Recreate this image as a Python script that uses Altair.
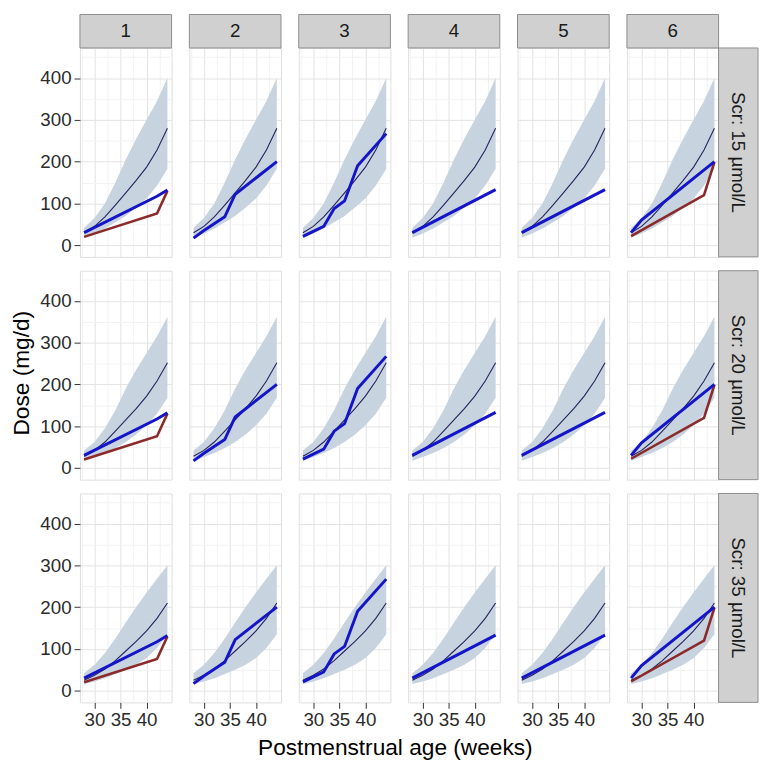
import altair as alt
import pandas as pd

# ---------------- data ----------------
weeks = [28, 30, 32, 34, 36, 38, 40, 42, 44]
scr_labels = ["Scr: 15 µmol/L", "Scr: 20 µmol/L", "Scr: 35 µmol/L"]
panel_labels = ["1", "2", "3", "4", "5", "6"]
y_title = "Dose (mg/d)"
x_title = "Postmenstrual age (weeks)"

median_15 = [30, 45, 68, 96, 125, 155, 187, 228, 280]
lower_15 = [18, 28, 40, 55, 70, 90, 112, 143, 183]
upper_15 = [42, 65, 100, 150, 205, 255, 300, 345, 400]

median_20 = [28, 42, 62, 88, 115, 142, 172, 208, 252]
lower_20 = [17, 26, 36, 48, 62, 80, 102, 130, 168]
upper_20 = [42, 62, 95, 138, 190, 235, 275, 315, 362]

median_35 = [25, 37, 52, 72, 95, 118, 143, 173, 210]
lower_35 = [16, 22, 30, 40, 50, 62, 78, 102, 135]
upper_35 = [42, 62, 90, 125, 163, 200, 235, 268, 300]

medians = [median_15, median_20, median_35]
lowers = [lower_15, lower_20, lower_35]
uppers = [upper_15, upper_20, upper_35]

blue_x = [[28, 42, 44], [28, 30, 34, 36, 44], [28, 30, 32, 34, 36, 38.5, 44],
          [28, 44], [28, 44], [28, 30, 44]]
blue_y = [[30, 117, 132], [17, 35, 68, 122, 200], [21, 33, 45, 88, 106, 190, 267],
          [30, 133], [30, 133], [30, 60, 200]]
red_x = [[28, 42, 44], [], [], [], [], [28, 42, 44]]
red_y = [[20, 76, 130], [], [], [], [], [22, 120, 199]]

x_grid = [27.5, 30, 32.5, 35, 37.5, 40, 42.5]
y_grid = [0, 50, 100, 150, 200, 250, 300, 350, 400, 450]

# ---------------- styling ----------------
FONT = "Liberation Sans"
PW, PH = 93, 212
SP = 12
STRIP_H = 34
STRIP_W = 40
RIBBON = "#C8D3E0"
MEDIAN = "#23235E"
BLUE = "#1414C8"
RED = "#8B2A2A"
STRIP_FILL = "#D0D0D0"
BORDER = "#8C8C8C"
MAJOR = "#E3E3E3"
MINOR = "#F2F2F2"
TXT = "#2b2b2b"


def x_axis(show):
    grid_col = {"condition": {"test": "datum.value % 5 === 0", "value": MAJOR}, "value": MINOR}
    if show:
        return alt.Axis(values=x_grid, labelExpr="datum.value % 5 === 0 ? datum.label : ''",
                        tickColor={"condition": {"test": "datum.value % 5 === 0", "value": "#333333"},
                                   "value": "transparent"},
                        gridColor=grid_col, domain=False, labelFontSize=19, labelColor=TXT,
                        labelFont=FONT, tickSize=6, labelPadding=2, labelFlush=False,
                        labelOverlap=False, title=None)
    return alt.Axis(values=x_grid, labels=False, ticks=False, domain=False,
                    gridColor=grid_col, title=None, minExtent=0, maxExtent=0)


def y_axis(show):
    grid_col = {"condition": {"test": "datum.value % 100 === 0", "value": MAJOR}, "value": MINOR}
    if show:
        return alt.Axis(values=y_grid, labelExpr="datum.value % 100 === 0 ? datum.label : ''",
                        tickColor={"condition": {"test": "datum.value % 100 === 0", "value": "#333333"},
                                   "value": "transparent"},
                        gridColor=grid_col, domain=False, labelFontSize=19, labelColor=TXT,
                        labelFont=FONT, tickSize=6, labelPadding=3, labelFlush=False,
                        labelOverlap=False, title=None)
    return alt.Axis(values=y_grid, labels=False, ticks=False, domain=False,
                    gridColor=grid_col, title=None, minExtent=0, maxExtent=0)


XS = alt.Scale(domain=[27.2, 44.8], nice=False, zero=False)
YS = alt.Scale(domain=[-28, 472], nice=False, zero=False)


def strip_top(c):
    df = pd.DataFrame({"label": [panel_labels[c]]})
    box = alt.Chart(df).mark_rect(fill=STRIP_FILL, stroke=BORDER, strokeWidth=1).encode(
        x=alt.value(0), x2=alt.value(PW), y=alt.value(-STRIP_H), y2=alt.value(0))
    txt = alt.Chart(df).mark_text(fontSize=19, font=FONT, color="#1a1a1a").encode(
        text="label:N", x=alt.value(PW / 2), y=alt.value(-STRIP_H / 2))
    return [box, txt]


def strip_right(r):
    df = pd.DataFrame({"label": [scr_labels[r]]})
    box = alt.Chart(df).mark_rect(fill=STRIP_FILL, stroke=BORDER, strokeWidth=1).encode(
        x=alt.value(PW), x2=alt.value(PW + STRIP_W), y=alt.value(0), y2=alt.value(PH))
    txt = alt.Chart(df).mark_text(fontSize=19, font=FONT, color="#1a1a1a", angle=90).encode(
        text="label:N", x=alt.value(PW + STRIP_W / 2), y=alt.value(PH / 2))
    return [box, txt]


def panel(r, c):
    xa = x_axis(r == 2)
    ya = y_axis(c == 0)
    X = alt.X("week:Q", scale=XS, axis=xa)
    band_df = pd.DataFrame({"week": weeks, "lower": lowers[r], "upper": uppers[r],
                            "median": medians[r]})
    band = alt.Chart(band_df).mark_area(color=RIBBON, opacity=1).encode(
        x=X, y=alt.Y("lower:Q", scale=YS, axis=ya), y2="upper:Q")
    med = alt.Chart(band_df).mark_line(color=MEDIAN, strokeWidth=1.1).encode(
        x=X, y=alt.Y("median:Q", scale=YS, axis=ya))
    layers = [band, med]
    if red_x[c]:
        red_df = pd.DataFrame({"week": red_x[c], "dose": red_y[c]})
        layers.append(alt.Chart(red_df).mark_line(color=RED, strokeWidth=2.6).encode(
            x=X, y=alt.Y("dose:Q", scale=YS, axis=ya)))
    blue_df = pd.DataFrame({"week": blue_x[c], "dose": blue_y[c]})
    layers.append(alt.Chart(blue_df).mark_line(color=BLUE, strokeWidth=3).encode(
        x=X, y=alt.Y("dose:Q", scale=YS, axis=ya)))
    if r == 0:
        layers += strip_top(c)
    if c == 5:
        layers += strip_right(r)
    return alt.layer(*layers).properties(width=PW, height=PH)


rows = [alt.hconcat(*[panel(r, c) for c in range(6)], spacing=SP) for r in range(3)]
grid = alt.vconcat(*rows, spacing=SP)

ytitle = alt.Chart(pd.DataFrame({"t": [y_title]})).mark_text(
    fontSize=23, font=FONT, color="#000000", angle=270).encode(
    text="t:N", x=alt.value(13), y=alt.value(PH + SP + PH / 2)).properties(
    width=24, height=560, view=alt.ViewBackground(stroke="transparent"))

body = alt.hconcat(ytitle, grid, spacing=4)

xtitle = alt.Chart(pd.DataFrame({"t": [x_title]})).mark_text(
    fontSize=23, font=FONT, color="#000000", baseline="top").encode(
    text="t:N", x=alt.value(392), y=alt.value(1)).properties(
    width=600, height=25, view=alt.ViewBackground(stroke="transparent"))

chart = alt.vconcat(body, xtitle, spacing=5).properties(padding=0).configure_view(
    stroke=BORDER, strokeWidth=1).configure(font=FONT)

chart.save("out.html", embed_options={"renderer": "svg", "actions": False})
